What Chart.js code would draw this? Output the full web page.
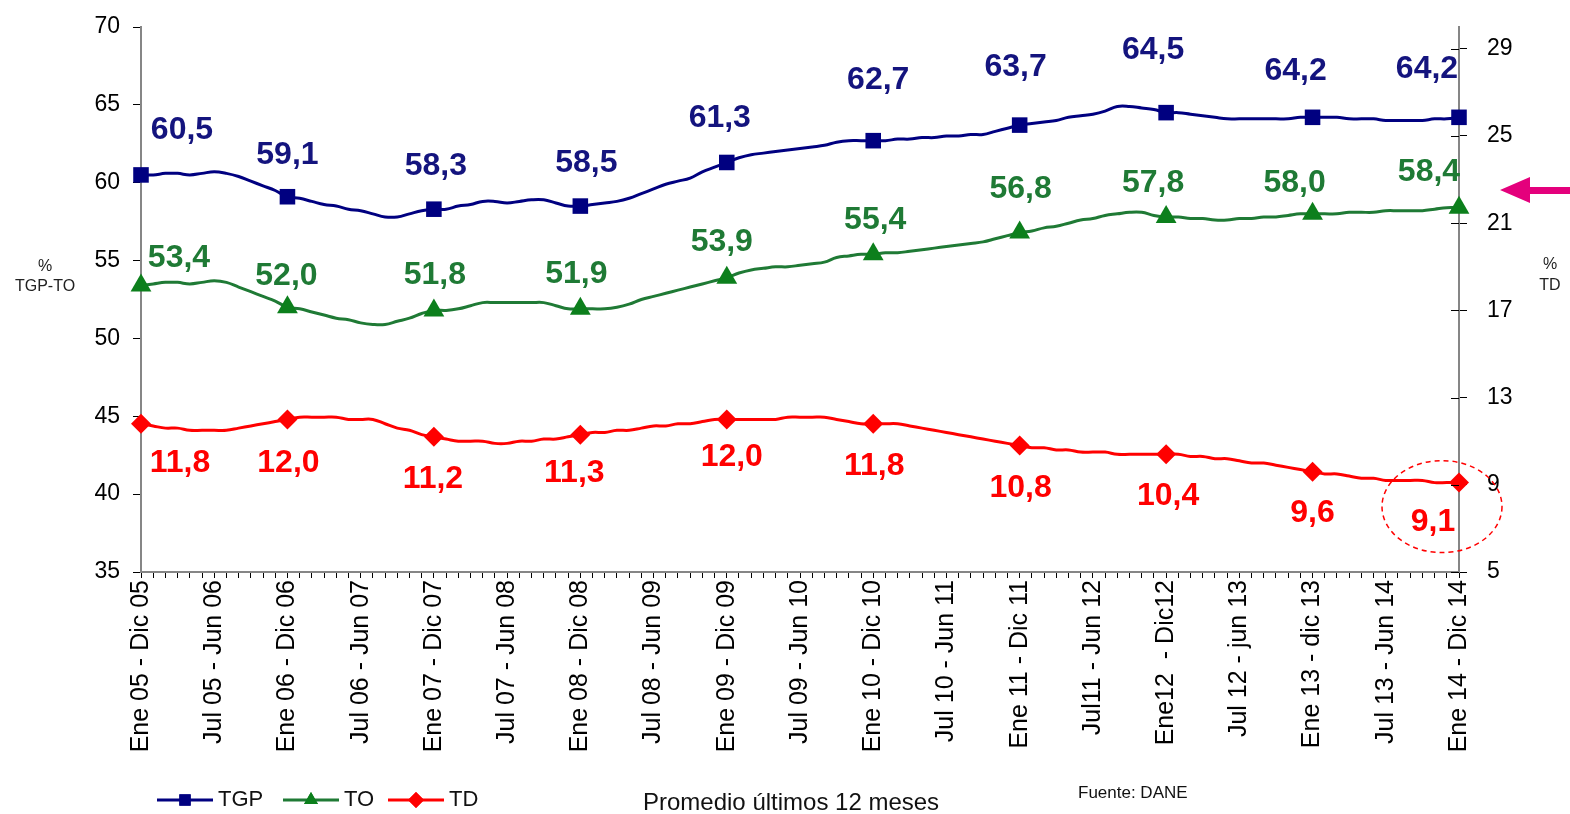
<!DOCTYPE html>
<html>
<head>
<meta charset="utf-8">
<script src="https://cdn.jsdelivr.net/npm/chart.js@4.4.1/dist/chart.umd.min.js"></script>
<style>
  html, body { margin: 0; padding: 0; background: #fff; }
  canvas { display: block; }
</style>
</head>
<body>
<canvas id="chart" width="1570" height="814"></canvas>
<script>
// tick labels, one every 6 months (the series are monthly, 12-month moving averages)
var tick_labels = ["Ene 05 - Dic 05", "Jul 05 - Jun 06", "Ene 06 - Dic 06", "Jul 06 - Jun 07",
    "Ene 07 - Dic 07", "Jul 07 - Jun 08", "Ene 08 - Dic 08", "Jul 08 - Jun 09",
    "Ene 09 - Dic 09", "Jul 09 - Jun 10", "Ene 10 - Dic 10", "Jul 10 - Jun 11",
    "Ene 11 - Dic 11", "Jul11 - Jun 12", "Ene12  - Dic12", "Jul 12 - jun 13",
    "Ene 13 - dic 13", "Jul 13 - Jun 14", "Ene 14 - Dic 14"];

var tgp = [60.5, 60.5, 60.6, 60.6, 60.5, 60.6, 60.7, 60.6, 60.4, 60.1, 59.8, 59.5, 59.1,
    59.0, 58.8, 58.6, 58.5, 58.3, 58.2, 58.0, 57.8, 57.8, 58.0, 58.2, 58.3,
    58.3, 58.5, 58.6, 58.8, 58.8, 58.7, 58.8, 58.9, 58.9, 58.7, 58.5, 58.5,
    58.6, 58.7, 58.8, 59.0, 59.3, 59.6, 59.9, 60.1, 60.3, 60.7, 61.0, 61.3,
    61.6, 61.8, 61.9, 62.0, 62.1, 62.2, 62.3, 62.4, 62.6, 62.7, 62.7, 62.7,
    62.7, 62.8, 62.8, 62.9, 62.9, 63.0, 63.0, 63.1, 63.1, 63.3, 63.5, 63.7,
    63.8, 63.9, 64.0, 64.2, 64.3, 64.4, 64.6, 64.9, 64.9, 64.8, 64.7, 64.5,
    64.5, 64.4, 64.3, 64.2, 64.1, 64.1, 64.1, 64.1, 64.1, 64.1, 64.2, 64.2,
    64.2, 64.2, 64.1, 64.1, 64.1, 64.0, 64.0, 64.0, 64.0, 64.1, 64.1, 64.2];

var to = [53.4, 53.5, 53.6, 53.6, 53.5, 53.6, 53.7, 53.6, 53.3, 53.0, 52.7, 52.4, 52.0,
    51.9, 51.7, 51.5, 51.3, 51.2, 51.0, 50.9, 50.9, 51.1, 51.3, 51.6, 51.8,
    51.8, 51.9, 52.1, 52.3, 52.3, 52.3, 52.3, 52.3, 52.3, 52.1, 51.9, 51.9,
    51.9, 51.9, 52.0, 52.2, 52.5, 52.7, 52.9, 53.1, 53.3, 53.5, 53.7, 53.9,
    54.2, 54.4, 54.5, 54.6, 54.6, 54.7, 54.8, 54.9, 55.2, 55.3, 55.4, 55.4,
    55.5, 55.5, 55.6, 55.7, 55.8, 55.9, 56.0, 56.1, 56.2, 56.4, 56.6, 56.8,
    56.9, 57.1, 57.2, 57.4, 57.6, 57.7, 57.9, 58.0, 58.1, 58.1, 57.9, 57.8,
    57.8, 57.7, 57.7, 57.6, 57.6, 57.7, 57.7, 57.8, 57.8, 57.9, 58.0, 58.0,
    58.0, 58.0, 58.1, 58.1, 58.1, 58.2, 58.2, 58.2, 58.2, 58.3, 58.4, 58.4];

var td = [11.8, 11.7, 11.6, 11.6, 11.5, 11.5, 11.5, 11.5, 11.6, 11.7, 11.8, 11.9, 12.0,
    12.1, 12.1, 12.1, 12.1, 12.0, 12.0, 12.0, 11.8, 11.6, 11.5, 11.3, 11.2,
    11.1, 11.0, 11.0, 11.0, 10.9, 10.9, 11.0, 11.0, 11.1, 11.1, 11.2, 11.3,
    11.4, 11.4, 11.5, 11.5, 11.6, 11.7, 11.7, 11.8, 11.8, 11.9, 12.0, 12.0,
    12.0, 12.0, 12.0, 12.0, 12.1, 12.1, 12.1, 12.1, 12.0, 11.9, 11.8, 11.8,
    11.8, 11.8, 11.7, 11.6, 11.5, 11.4, 11.3, 11.2, 11.1, 11.0, 10.9, 10.8,
    10.7, 10.7, 10.6, 10.6, 10.5, 10.5, 10.5, 10.4, 10.4, 10.4, 10.4, 10.4,
    10.4, 10.3, 10.3, 10.2, 10.2, 10.1, 10.0, 10.0, 9.9, 9.8, 9.7, 9.6,
    9.5, 9.5, 9.4, 9.3, 9.3, 9.2, 9.2, 9.2, 9.2, 9.1, 9.1, 9.1];

var left_ticks = [35, 40, 45, 50, 55, 60, 65, 70];
var right_ticks = [5, 9, 13, 17, 21, 25, 29];

// where the value labels sit, in px from their marker (one per yearly marker)
var off_tgp = [[41,-45],[0,-42],[2,-43],[6,-43],[-7,-44],[5,-60],[-4,-58],[-13,-62],[-17,-46],[-32,-48]];
var off_to  = [[38,-27],[-1,-31],[1,-35],[-4,-35],[-5,-36],[2,-34],[1,-43],[-13,-34],[-18,-31],[-30,-35]];
var off_td  = [[39,39],[1,44],[-1,42],[-6,39],[5,38],[1,42],[1,43],[2,42],[0,41],[-26,40]];

var FONT = "'Liberation Sans', Arial, sans-serif";
var C_TGP = '#000080', C_TO = '#1f7a35', C_TO_MK = '#0c7f1c', C_TD = '#ff0000';

var categories = [];
for (var i = 0; i < tgp.length; i++) categories.push(i % 6 == 0 ? tick_labels[i / 6] : '');

function radii(r) {
    return tgp.map(function (v, i) { return i % 12 == 0 ? r : 0; });
}

var valueLabels = {
    id: 'valueLabels',
    afterDatasetsDraw: function (chart) {
        var ctx = chart.ctx;
        var offs = [off_tgp, off_to, off_td];
        var cols = ['#14147e', C_TO, C_TD];
        ctx.save();

        // right axis ticks cross the axis line
        var y2 = chart.scales.y2;
        ctx.strokeStyle = '#000';
        ctx.lineWidth = 1;
        y2.ticks.forEach(function (t) {
            var py = Math.round(y2.getPixelForValue(t.value)) + 0.5;
            ctx.beginPath();
            ctx.moveTo(y2.left - 8, py);
            ctx.lineTo(y2.left, py);
            ctx.stroke();
        });

        ctx.font = 'bold 32px ' + FONT;
        ctx.textAlign = 'center';
        ctx.textBaseline = 'middle';
        chart.data.datasets.forEach(function (ds, d) {
            var meta = chart.getDatasetMeta(d);
            ctx.fillStyle = cols[d];
            var k = 0;
            meta.data.forEach(function (pt, i) {
                if (i % 12 != 0) return;
                var o = offs[d][k++];
                ctx.fillText(ds.data[i].toFixed(1).replace('.', ','), pt.x + o[0], pt.y + o[1]);
            });
        });

        // dashed circle round the last TD value
        var last = chart.getDatasetMeta(2).data[td.length - 1];
        ctx.strokeStyle = C_TD;
        ctx.lineWidth = 1.5;
        ctx.setLineDash([5, 4]);
        ctx.beginPath();
        ctx.ellipse(last.x - 17, last.y + 24, 60, 46, 0, 0, Math.PI * 2);
        ctx.stroke();
        ctx.setLineDash([]);

        // pink arrow on the right
        ctx.fillStyle = '#e4007c';
        ctx.beginPath();
        ctx.moveTo(1500, 190);
        ctx.lineTo(1530, 177);
        ctx.lineTo(1530, 187);
        ctx.lineTo(1570, 187);
        ctx.lineTo(1570, 194);
        ctx.lineTo(1530, 194);
        ctx.lineTo(1530, 203);
        ctx.closePath();
        ctx.fill();

        // axis titles
        ctx.fillStyle = '#222';
        ctx.font = '16px ' + FONT;
        ctx.fillText('%', 45, 267);
        ctx.fillText('TGP-TO', 45, 287);
        ctx.fillText('%', 1550, 265);
        ctx.fillText('TD', 1550, 286);

        // legend
        var items = [['TGP', C_TGP, C_TGP, 'rect', 157], ['TO', C_TO, C_TO_MK, 'triangle', 283], ['TD', C_TD, C_TD, 'rectRot', 388]];
        items.forEach(function (it) {
            ctx.strokeStyle = it[1];
            ctx.lineWidth = 3;
            ctx.beginPath();
            ctx.moveTo(it[4], 800);
            ctx.lineTo(it[4] + 56, 800);
            ctx.stroke();
            ctx.fillStyle = it[2];
            Chart.helpers.drawPoint(ctx, { pointStyle: it[3], radius: 8, borderWidth: 0 }, it[4] + 28, 800);
            ctx.fill();
            ctx.fillStyle = '#111';
            ctx.font = '22px ' + FONT;
            ctx.textAlign = 'left';
            ctx.fillText(it[0], it[4] + 61, 800);
        });
        ctx.fillStyle = '#111';
        ctx.font = '24px ' + FONT;
        ctx.fillText('Promedio últimos 12 meses', 643, 803);
        ctx.font = '17px ' + FONT;
        ctx.fillText('Fuente: DANE', 1078, 793);
        ctx.restore();
    }
};

var tickFont = { family: FONT, size: 23 };

new Chart(document.getElementById('chart'), {
    type: 'line',
    data: {
        labels: categories,
        datasets: [
            { label: 'TGP', data: tgp, yAxisID: 'y', borderColor: C_TGP, backgroundColor: C_TGP,
              borderWidth: 3, pointStyle: 'rect', pointRadius: radii(11), pointBorderWidth: 0, tension: 0.4 },
            { label: 'TO', data: to, yAxisID: 'y', borderColor: C_TO, backgroundColor: C_TO_MK,
              borderWidth: 3, pointStyle: 'triangle', pointRadius: radii(12), pointBorderWidth: 0, tension: 0.4 },
            { label: 'TD', data: td, yAxisID: 'y2', borderColor: C_TD, backgroundColor: C_TD,
              borderWidth: 3, pointStyle: 'rectRot', pointRadius: radii(10), pointBorderWidth: 0, tension: 0.4 }
        ]
    },
    options: {
        responsive: false,
        animation: false,
        layout: { padding: { top: 27, left: 0, right: 0, bottom: 0 } },
        plugins: { legend: { display: false }, tooltip: { enabled: false } },
        scales: {
            x: {
                offset: false,
                grid: { drawOnChartArea: false, tickLength: 6, tickColor: '#000', tickWidth: 1 },
                border: { color: '#868686', width: 2 },
                ticks: { autoSkip: false, minRotation: 90, maxRotation: 90, padding: 2, color: '#000',
                         font: { family: FONT, size: 25 } },
                afterFit: function (s) { s.height = 242; s.paddingLeft = 0; s.paddingRight = 0; }
            },
            y: {
                position: 'left', min: 35, max: 70,
                afterBuildTicks: function (s) { s.ticks = left_ticks.map(function (v) { return { value: v }; }); },
                grid: { drawOnChartArea: false, tickLength: 8, tickColor: '#000' },
                border: { color: '#868686', width: 2 },
                ticks: { padding: 13, color: '#000', font: tickFont },
                afterFit: function (s) { s.width = 141; s.paddingTop = 0; s.paddingBottom = 0; }
            },
            y2: {
                position: 'right', min: 5, max: 30,
                afterBuildTicks: function (s) { s.ticks = right_ticks.map(function (v) { return { value: v }; }); },
                grid: { drawOnChartArea: false, tickLength: 8, tickColor: '#000' },
                border: { color: '#868686', width: 2 },
                ticks: { padding: 20, color: '#000', font: tickFont },
                afterFit: function (s) { s.width = 111; s.paddingTop = 0; s.paddingBottom = 0; }
            }
        }
    },
    plugins: [valueLabels]
});
</script>
</body>
</html>
